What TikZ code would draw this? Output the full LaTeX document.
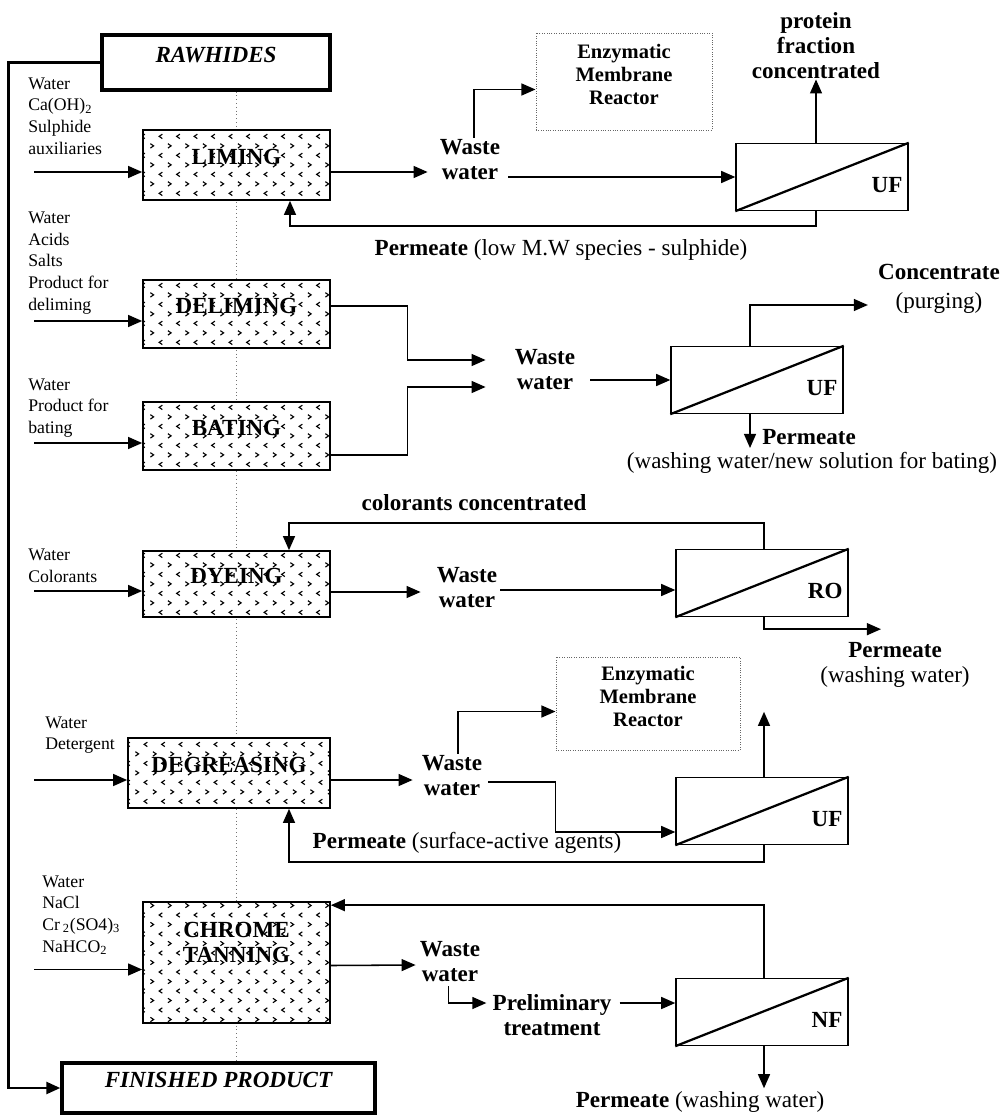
\documentclass[tikz,border=0pt]{standalone}
\usepackage{fontspec}
\setmainfont{Liberation Serif}
\usetikzlibrary{arrows.meta, positioning, calc, fit, backgrounds}

\tikzset{
	flow/.style={line width=1.1pt, -{Triangle[length=10pt, width=8.5pt]}},
	bt/.style={font=\fontsize{16.4}{17.8}\selectfont\bfseries, align=center, inner sep=0pt},
	rt/.style={font=\fontsize{16.4}{17.8}\selectfont, align=center, inner sep=0pt},
	st/.style={font=\fontsize{12.6}{15.4}\selectfont, align=left, inner sep=0pt, anchor=west}
}
\tikzset{
	endbox/.style={draw, line width=2.4pt, inner sep=0pt, fill=white,
			font=\fontsize{16.4}{17.8}\selectfont\bfseries\itshape},
	enzbox/.style={draw=black!60, densely dotted, line width=0.7pt, inner sep=0pt,
			font=\fontsize{14.6}{16.2}\selectfont\bfseries, align=center},
	spine/.style={draw=black!55, dotted, line width=0.7pt}
}
\tikzset{
	procbox/.style={draw, line width=1.2pt, fill=white, inner sep=0pt, align=center,
			font=\fontsize{16.4}{17.8}\selectfont\bfseries,
			path picture={
					\begin{scope}[shift={(path picture bounding box.center)}, line width=0.8pt]
						\foreach \r [evaluate=\r as \d using {1-2*mod(\r+16,2)},
						             evaluate=\r as \o using {8.75*mod(\r+16,2)}] in {-8,...,8}
						\foreach \c in {-12,...,12}
						\draw (9+\o+\c*17.5, \r*9.5) ++(-1.6*\d,-2.2) -- ++(3.2*\d,2.2) -- ++(-3.2*\d,2.2);
					\end{scope}
				}}
}
\tikzset{
	membrane/.pic={
			\node[draw, line width=1pt, minimum width=4.3cm, minimum height=1.675cm, inner sep=0pt] (-box) {};
			\draw[line width=1.6pt] (-box.south west) -- (-box.north east);
			\node[bt, anchor=base east] (-lab) at ($(-box.south east)+(-6,-19)$) {#1};
		}
}

\begin{document}
\begin{tikzpicture}[x=0.025cm, y=-0.025cm]

	\useasboundingbox (0,0) rectangle (1007,1115);

	% raw hides -> finished product
	\node[endbox, fit={(102,35) (330,90)}] (raw) {RAWHIDES};
	\node[endbox, fit={(62,1063) (375,1113)}] (fin) {FINISHED PRODUCT};

	% process steps
	\node[procbox, fit={(143,130) (330,200)}] (lim) {LIMING};
	\node[procbox, fit={(143,280) (330,348)}] (delim) {DELIMING};
	\node[procbox, fit={(143,402) (330,470)}] (bat) {BATING};
	\node[procbox, fit={(143,551) (330,617)}] (dye) {DYEING};
	\node[procbox, fit={(128,738) (330,808)}] (degr) {DEGREASING};
	\node[procbox, fit={(143,902) (330,1023)}] (chrome) {};
	\node[bt] (chromelab) at ($(chrome.center)+(0,-20)$) {CHROME\\TANNING};

	\begin{scope}[on background layer]
		\draw[spine] (raw.south -| lim.north) -- (fin.north -| lim.north);
	\end{scope}

	\draw[line width=1.9pt, -{Triangle[length=10pt, width=8.5pt]}] (raw.west) -- ++(-92,0) |- (fin.west);

	% inputs
	\node[st] (in1) at (28,116) {Water\\Ca(OH)\textsubscript{2}\\Sulphide\\auxiliaries};
	\node[st] (in2) at (28,263) {Water\\Acids\\Salts\\Product for\\deliming};
	\node[st] (in3) at (28,408) {Water\\Product for\\bating};
	\node[st] (in4) at (28,566) {Water\\Colorants};
	\node[st] (in5) at (45,735) {Water\\Detergent};
	\node[st] (in6) at (42,915) {Water\\NaCl\\Cr\,\textsubscript{2}(SO4)\textsubscript{3}\\NaHCO\textsubscript{2}};

	\foreach \b in {lim, delim, bat, dye, chrome}
	\draw[flow] ($(\b.west)+(-108,7)$) -- ($(\b.west)+(0,7)$);
	\draw[flow] ($(degr.west)+(-93,7)$) -- ($(degr.west)+(0,7)$);

	% liming
	\node[bt] (ww1) at (470,160) {Waste\\water};
	\node[enzbox, fit={(536,33) (712,130)}] (enz1) {Enzymatic\\Membrane\\Reactor};
	\pic (uf1) at (822,177) {membrane=UF};
	\node[bt] (prot) at (816,46) {protein\\fraction\\concentrated};
	\node[rt] (perm1) at (561,250) {\textbf{Permeate} (low M.W species - sulphide)};

	\draw[flow] ($(lim.east)+(0,7)$) -- ($(ww1.west)+(-12,12)$);
	\draw[flow] ($(ww1.north)+(4,-2)$) |- ($(enz1.west)+(0,8)$);
	\draw[flow] ($(ww1.east |- uf1-box.west)+(8,0)$) -- (uf1-box.west);
	\draw[flow] (uf1-box.north -| prot) -- (prot);
	\draw[flow] (uf1-box.south -| prot) -- ++(0,15) -| ($(lim.south)+(53.5,0)$);

	% deliming + bating
	\node[bt] (ww2) at (545,370) {Waste\\water};
	\pic (uf2) at (757,380) {membrane=UF};
	\node[rt] (conc) at (939,289) {\textbf{Concentrate}\\[3pt](purging)};
	\node[bt, anchor=west] (perm2) at (762,437) {Permeate};
	\node[rt] (perm2b) at (812,463) {(washing water/new solution for bating)};

	\draw[flow] ($(delim.east)+(0,-8)$) -| ($(ww2.west)+(-107,-10)$) -- ($(ww2.west)+(-29,-10)$);
	\draw[flow] ($(bat.east)+(0,19)$) -| ($(ww2.west)+(-107,17)$) -- ($(ww2.west)+(-29,17)$);
	\draw[flow] ($(ww2.east |- uf2-box.west)+(15,0)$) -- (uf2-box.west);
	\draw[flow] ($(uf2-box.north)+(-7,0)$) |- ($(conc.west)+(-10,16)$);
	\draw[flow] ($(uf2-box.south)+(-7,0)$) -- ($(perm2.west)+(-12,11)$);

	% dyeing
	\node[bt] (ww3) at (467,588) {Waste\\water};
	\pic (ro) at (762,583) {membrane=RO};
	\node[bt] (col) at (474,503) {colorants concentrated};
	\node[rt] (perm3) at (895,665) {\textbf{Permeate}\\(washing water)};

	\draw[flow] ($(dye.east)+(0,8)$) -- ($(ww3.west)+(-16,4)$);
	\draw[flow] ($(ww3.east)+(3,2)$) -- ($(ro-box.west)+(0,7)$);
	\draw[flow] ($(ro-box.north)+(2,0)$) -- ++(0,-26) -| ($(dye.north)+(52.5,0)$);
	\draw[flow] ($(ro-box.south)+(2,0)$) |- ($(perm3.north)+(-14,-13)$);

	% degreasing
	\node[bt] (ww4) at (452,776) {Waste\\water};
	\node[enzbox, fit={(556,657) (740,750)}] (enz2) {Enzymatic\\Membrane\\Reactor};
	\pic (uf3) at (762,811) {membrane=UF};
	\node[rt] (perm4) at (467,843) {\textbf{Permeate} (surface-active agents)};

	\draw[flow] ($(degr.east)+(0,7)$) -- ($(ww4.west)+(-9,4)$);
	\draw[flow] ($(ww4.north)+(6,-2)$) |- ($(enz2.west)+(0,8)$);
	\draw[flow] ($(ww4.east)+(6,6)$) -| ($(uf3-box.west)+(-120,21)$) -- ($(uf3-box.west)+(0,21)$);
	\draw[flow] ($(uf3-box.north)+(2,0)$) -- ++(0,-65);
	\draw[flow] ($(uf3-box.south)+(2,0)$) -- ++(0,17) -| ($(degr.south)+(60,0)$);

	% chrome tanning
	\node[bt] (ww5) at (450,962) {Waste\\water};
	\node[bt] (prel) at (552,1015) {Preliminary\\treatment};
	\pic (nf) at (762,1012) {membrane=NF};
	\node[rt] (perm5) at (700,1102) {\textbf{Permeate} (washing water)};

	\draw[flow] ($(chrome.east)+(0,3)$) -- ($(ww5.west)+(-4,3)$);
	\draw[flow] ($(ww5.south west)+(29,4)$) |- ($(prel.west)+(-6,-12)$);
	\draw[flow] ($(prel.east)+(8,-12)$) -- ($(nf-box.west)+(0,-9)$);
	\draw[flow] ($(nf-box.north)+(2,0)$) |- ($(chrome.north east)+(0,4)$);
	\draw[flow] ($(nf-box.south)+(2,0)$) -- ($(perm5.north -| nf-box.south)+(2,-3)$);

\end{tikzpicture}
\end{document}
